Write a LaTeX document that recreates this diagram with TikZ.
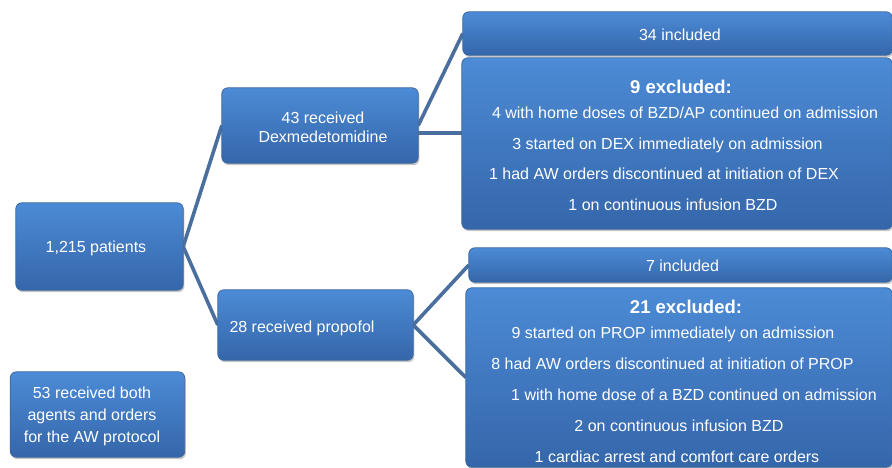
\documentclass[tikz,border=0pt]{standalone}
\usepackage{fontspec}
\setmainfont{Liberation Sans}
\usetikzlibrary{shadows}
\definecolor{boxtop}{HTML}{4C8BD6}
\definecolor{boxbot}{HTML}{3566AA}
\definecolor{boxedge}{HTML}{3A679F}
\definecolor{linkc}{HTML}{4A6E9E}
\tikzset{
  box/.style={draw=boxedge, line width=0.8pt, rounded corners=6pt, top color=boxtop, bottom color=boxbot,
    drop shadow={opacity=0.45, shadow xshift=1.2pt, shadow yshift=-2pt}, inner sep=0pt},
  txt/.style={text=white, font=\fontsize{16}{18}\selectfont, inner sep=0pt, anchor=base},
  ttl/.style={text=white, font=\fontsize{18.5}{21}\selectfont\bfseries, inner sep=0pt, anchor=base},
  link/.style={draw=linkc, line width=3.6pt}
}
\begin{document}
\begin{tikzpicture}[x=1pt,y=-1pt]
\useasboundingbox (0,0) rectangle (892,468);
% boxes placed invisibly first for anchors
\path (99.5,246.5) node[minimum width=167, minimum height=87] (pat) {};
\path (320,125.5) node[minimum width=196, minimum height=75] (dex) {};
\path (315.5,325) node[minimum width=195, minimum height=70] (prop) {};
\path (677.5,33.5) node[minimum width=429, minimum height=43] (inc34) {};
\path (677,143.5) node[minimum width=430, minimum height=171] (exc9) {};
\path (680.5,265) node[minimum width=423, minimum height=34] (inc7) {};
\path (679,377.5) node[minimum width=426, minimum height=179] (exc21) {};
\path (97.5,414.5) node[minimum width=174, minimum height=85] (both) {};
% connectors
\draw[link] (pat.east) -- (dex.west);
\draw[link] (pat.east) -- (prop.west);
\draw[link] (dex.east) -- (inc34.west);
\coordinate (d2) at ([yshift=-7.5pt]dex.east);
\draw[link] (d2) -- (d2 -| exc9.west);
\draw[link] (prop.east) -- (inc7.west);
\draw[link] (prop.east) -- (exc21.west);
% boxes
\foreach \n in {pat,dex,prop,inc34,exc9,inc7,exc21,both}{
  \path[box] (\n.south west) rectangle (\n.north east);
}
% texts
\node[txt] (tpat) at (96,252.5) {1,215 patients};
\node[txt] (tdex1) at (323,123.5) {43 received};
\node[txt] (tdex2) at (323,142.5) {Dexmedetomidine};
\node[txt] (tprop) at (302,332.5) {28 received propofol};
\node[txt] (t34) at (680,40.5) {34 included};
\node[ttl] (t9) at (681,93.5) {9 excluded:};
\node[txt] (t9a) at (685,118.5) {4 with home doses of BZD/AP continued on admission};
\node[txt] (t9b) at (667.5,149.5) {3 started on DEX immediately on admission};
\node[txt] (t9c) at (664,179.5) {1 had AW orders discontinued at initiation of DEX};
\node[txt] (t9d) at (673,210.5) {1 on continuous infusion BZD};
\node[txt] (t7) at (682.5,271.5) {7 included};
\node[ttl] (t21) at (686,313.5) {21 excluded:};
\node[txt] (t21a) at (673,338.5) {9 started on PROP immediately on admission};
\node[txt] (t21b) at (672.5,369.5) {8 had AW orders discontinued at initiation of PROP};
\node[txt] (t21c) at (694,400.5) {1 with home dose of a BZD continued on admission};
\node[txt] (t21d) at (679,431.5) {2 on continuous infusion BZD};
\node[txt] (t21e) at (677,462.5) {1 cardiac arrest and comfort care orders};
\node[txt] (tb1) at (92,398.5) {53 received both};
\node[txt] (tb2) at (92,420.5) {agents and orders};
\node[txt] (tb3) at (92,442.5) {for the AW protocol};
\end{tikzpicture}
\end{document}
